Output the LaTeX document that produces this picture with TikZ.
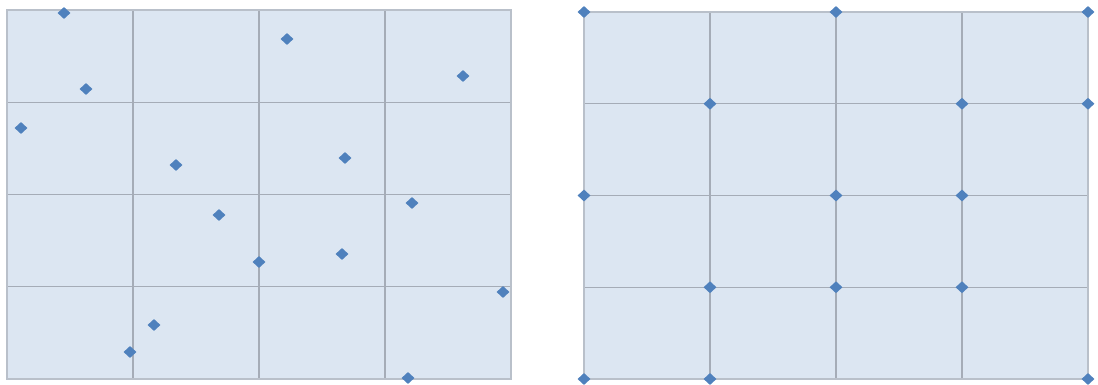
\documentclass[tikz,border=0pt]{standalone}
\usetikzlibrary{positioning,shapes}
\definecolor{panelfill}{RGB}{220,230,242}
\definecolor{gridline}{RGB}{165,172,183}
\definecolor{frameline}{RGB}{185,192,202}
\definecolor{dotblue}{RGB}{79,129,189}

\begin{document}
\begin{tikzpicture}[x=1pt, y=-1pt,
    pt/.style={diamond, fill=dotblue, inner sep=0pt, minimum width=13pt, minimum height=12pt}]
  \useasboundingbox (0,0) rectangle (1098,385);
%
    % left panel: scattered points
    \fill[panelfill] (7,10) rectangle (511,379);
    \foreach \x in {133,259,385}
      \draw[gridline, line width=1.2pt] (\x,10) -- (\x,379);
    \foreach \y in {102.25,194.5,286.75}
      \draw[gridline, line width=1.2pt] (7,\y) -- (511,\y);
    \draw[frameline, line width=1.2pt] (7,10) rectangle (511,379);
%
    \foreach \x/\y [count=\i] in {64/13, 86/89, 21/128, 287/39, 463/76,
        176/165, 345/158, 219/215, 412/203, 259/262,
        342/254, 154/325, 130/352, 503/292, 408/378}
      \node[pt] (l\i) at (\x,\y) {};
%
    % right panel: points on the grid
    \fill[panelfill] (584,12) rectangle (1088,379);
    \foreach \x in {710,836,962}
      \draw[gridline, line width=1.2pt] (\x,12) -- (\x,379);
    \foreach \y in {103.75,195.5,287.25}
      \draw[gridline, line width=1.2pt] (584,\y) -- (1088,\y);
    \draw[frameline, line width=1.2pt] (584,12) rectangle (1088,379);
%
    \foreach \a/\b [count=\k] in {0/0, 2/0, 4/0, 1/1, 3/1, 4/1, 0/2, 2/2,
        3/2, 1/3, 2/3, 3/3, 0/4, 1/4, 4/4}
      \node[pt] (r\k) at ({584+126*\a},{12+91.75*\b}) {};
  \end{tikzpicture}
\end{document}
